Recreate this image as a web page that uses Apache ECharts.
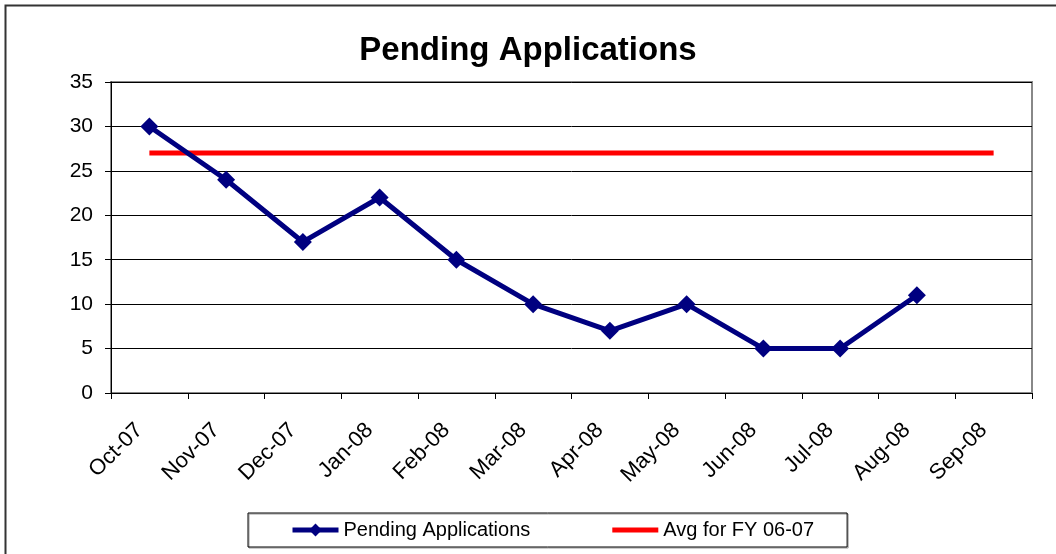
<!DOCTYPE html>
<html>
<head>
<meta charset="utf-8">
<title>Pending Applications</title>
<script src="https://cdn.jsdelivr.net/npm/echarts@6/dist/echarts.min.js"></script>
<style>
    html, body { margin: 0; padding: 0; background: #fff; }
    #chart_div { width: 1056px; height: 554px; }
</style>
</head>
<body>
<div id="chart_div"></div>
<script>
    // values
    const months = ['Oct-07', 'Nov-07', 'Dec-07', 'Jan-08', 'Feb-08', 'Mar-08',
                    'Apr-08', 'May-08', 'Jun-08', 'Jul-08', 'Aug-08', 'Sep-08'];
    const pending = [30, 24, 17, 22, 15, 10, 7, 10, 5, 5, 11, null];
    const avgPrevFY = [27, 27, 27, 27, 27, 27, 27, 27, 27, 27, 27, 27];

    const font = '"Liberation Sans", Arial, sans-serif';

    const chart = echarts.init(document.getElementById('chart_div'));

    const chartOption = {
        backgroundColor: '#fff',
        animation: false,
        textStyle: { fontFamily: font, color: '#000' },
        title: {
            text: 'Pending Applications',
            left: 'center',
            top: 34,
            padding: 0,
            textStyle: { fontFamily: font, fontSize: 33, fontWeight: 'bold', color: '#000' }
        },
        legend: {
            bottom: 7,
            left: 248,
            padding: [7, 33, 7, 42],
            itemGap: 82,
            itemWidth: 46,
            itemHeight: 16,
            borderColor: '#000',
            borderWidth: 1,
            shadowColor: '#999',
            shadowOffsetX: 1,
            shadowOffsetY: 1,
            textStyle: { fontFamily: font, fontSize: 20, color: '#000' },
            data: [
                { name: 'Pending Applications', lineStyle: { width: 5 } },
                { name: 'Avg for FY 06-07', icon: 'path://M0,0H46V5H0Z', itemStyle: { color: '#ff0000' } }
            ]
        },
        grid: {
            left: 111,
            right: 24,
            top: 82,
            bottom: 161,
            show: true,
            borderColor: '#888',
            borderWidth: 2
        },
        xAxis: {
            type: 'category',
            data: months,
            boundaryGap: true,
            axisLine: { lineStyle: { color: '#000', width: 1 } },
            axisTick: { show: true, length: 6, lineStyle: { color: '#000' } },
            axisLabel: {
                interval: 0,
                rotate: 45,
                margin: 24,
                padding: [0, 14, 0, 0],
                fontSize: 22,
                fontFamily: font,
                color: '#000'
            }
        },
        yAxis: {
            type: 'value',
            min: 0,
            max: 35,
            interval: 5,
            axisLine: { show: true, lineStyle: { color: '#000', width: 1 } },
            axisTick: { show: true, length: 6, lineStyle: { color: '#000' } },
            axisLabel: { margin: 18, fontSize: 21, fontFamily: font, color: '#000' },
            splitLine: { show: true, lineStyle: { color: '#000', width: 1 } }
        },
        series: [{
            name: 'Pending Applications',
            type: 'line',
            data: pending,
            symbol: 'diamond',
            symbolSize: 18,
            color: '#000080',
            lineStyle: { color: '#000080', width: 5 },
            itemStyle: { color: '#000080' },
            connectNulls: false,
            z: 3
        }, {
            name: 'Avg for FY 06-07',
            type: 'line',
            data: avgPrevFY,
            symbol: 'none',
            color: '#ff0000',
            lineStyle: { color: '#ff0000', width: 5 },
            itemStyle: { color: '#ff0000' },
            z: 2
        }],
        graphic: [{
            type: 'rect',
            left: 3,
            top: 3,
            shape: { width: 1070, height: 570 },
            style: { fill: null, stroke: '#333', lineWidth: 2 },
            silent: true
        }]
    };

    chart.setOption(chartOption);
</script>
</body>
</html>
